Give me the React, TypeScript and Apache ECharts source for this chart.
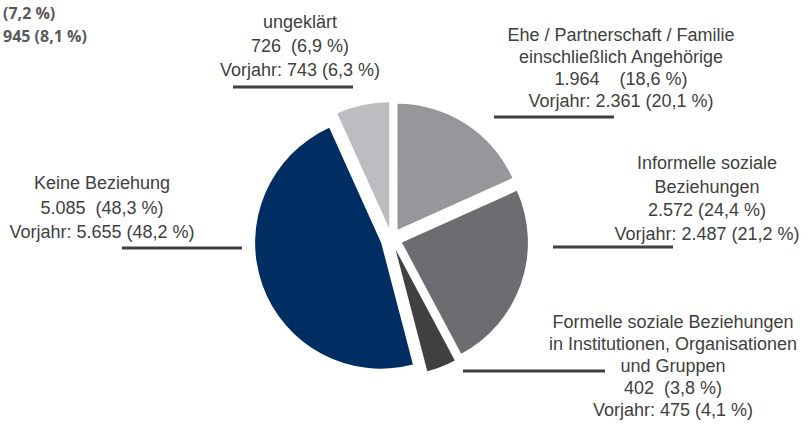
import React, { useEffect, useRef } from "react";
import * as echarts from "echarts";

// ---- data ----
const categories = [
  ["Ehe / Partnerschaft / Familie", "einschließlich Angehörige"],
  ["Informelle soziale", "Beziehungen"],
  ["Formelle soziale Beziehungen", "in Institutionen, Organisationen", "und Gruppen"],
  ["Keine Beziehung"],
  ["ungeklärt"],
];
const values = [1964, 2572, 402, 5085, 726];
const shares = [18.6, 24.4, 3.8, 48.3, 6.9];
const prevValues = [2361, 2487, 475, 5655, 743];
const prevShares = [20.1, 21.2, 4.1, 48.2, 6.3];
const cornerLines = ["(7,2 %)", "945 (8,1 %)"];

// ---- style / layout ----
const colors = ["#97979b", "#6d6d71", "#404040", "#002d62", "#bdbdc1"];
const gaps = ["    ", " ", "  ", "  ", "  "];
const labelLayout = [
  { x: 621, y: 35, lh: 22, line: [494, 614, 117] },
  { x: 707, y: 163, lh: 23.5, line: [553, 673, 247] },
  { x: 673, y: 322, lh: 22, line: [463, 605, 371] },
  { x: 102, y: 183, lh: 24.5, line: [122, 242, 248] },
  { x: 300, y: 22, lh: 24, line: [233, 353, 87] },
];

const fmtInt = (n: number) => {
  const s = String(n);
  return s.replace(/\B(?=(\d{3})+(?!\d))/g, ".");
};
const fmtPct = (p: number) => p.toFixed(1).replace(".", ",") + " %";

export default function App() {
  const ref = useRef<HTMLDivElement>(null);
  useEffect(() => {
    if (!ref.current) return;
    const chart = echarts.init(ref.current, null, { renderer: "svg" });
    const font = '18px "Liberation Sans", Arial, sans-serif';
    const graphics: any[] = [];
    categories.forEach((cat, i) => {
      const L = labelLayout[i];
      const lines = [
        ...cat,
        `${fmtInt(values[i])}${gaps[i]}(${fmtPct(shares[i])})`,
        `Vorjahr: ${fmtInt(prevValues[i])} (${fmtPct(prevShares[i])})`,
      ];
      lines.forEach((t, k) => {
        graphics.push({
          type: "text",
          silent: true,
          style: {
            text: t,
            x: L.x,
            y: L.y + k * L.lh,
            align: "center",
            verticalAlign: "middle",
            font,
            fill: "#404040",
          },
        });
      });
      graphics.push({
        type: "line",
        silent: true,
        shape: { x1: L.line[0], y1: L.line[2], x2: L.line[1], y2: L.line[2] },
        style: { stroke: "#404040", lineWidth: 3 },
      });
    });
    cornerLines.forEach((t, k) => {
      graphics.push({
        type: "text",
        silent: true,
        style: {
          text: t,
          x: 3,
          y: 13 + k * 23,
          align: "left",
          verticalAlign: "middle",
          font: 'bold 16px "Open Sans", sans-serif',
          fill: "#595959",
        },
      });
    });

    chart.setOption({
      animation: false,
      backgroundColor: "#ffffff",
      graphic: graphics,
      series: [
        {
          type: "pie",
          center: [391.5, 239],
          radius: 126,
          startAngle: 90,
          clockwise: true,
          selectedMode: "multiple",
          selectedOffset: 11,
          label: { show: false },
          labelLine: { show: false },
          emphasis: { disabled: true },
          data: values.map((v, i) => ({
            value: v,
            name: categories[i].join(" "),
            selected: true,
            itemStyle: { color: colors[i] },
          })),
        },
      ],
    });
    return () => chart.dispose();
  }, []);
  return (
    <div
      ref={ref}
      style={{ position: "fixed", left: 0, top: 0, width: 811, height: 427 }}
    />
  );
}
